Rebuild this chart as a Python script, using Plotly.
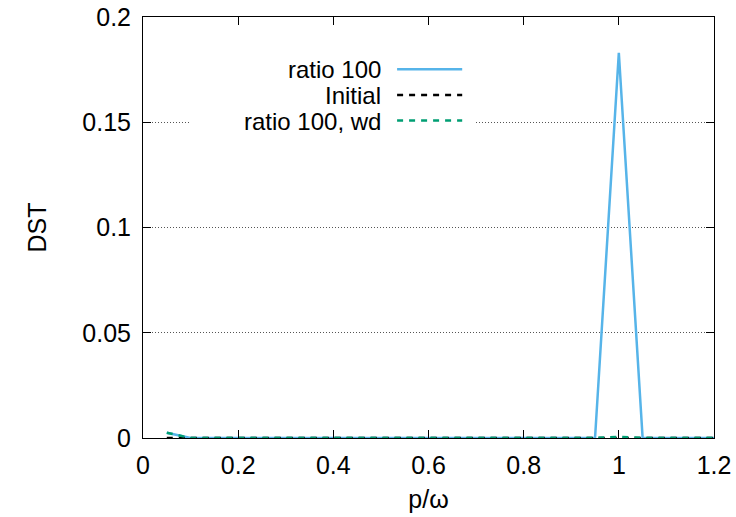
import plotly.graph_objects as go

# Frequency grid p/omega and the three DST curves
p_over_omega = [0.05, 0.10, 0.15, 0.20, 0.25, 0.30, 0.35, 0.40, 0.45, 0.50,
                0.55, 0.60, 0.65, 0.70, 0.75, 0.80, 0.85, 0.90, 0.95, 1.00,
                1.05, 1.10, 1.15, 1.20]
dst_ratio100 = [0.0025, 0, 0, 0, 0, 0, 0, 0, 0, 0,
                0, 0, 0, 0, 0, 0, 0, 0, 0, 0.183,
                0, 0, 0, 0]
dst_initial = [0, 0, 0, 0, 0, 0, 0, 0, 0, 0,
               0, 0, 0, 0, 0, 0, 0, 0, 0, 0,
               0, 0, 0, 0]
dst_ratio100_wd = [0.0025, 0, 0, 0, 0, 0, 0, 0, 0, 0,
                   0, 0, 0, 0, 0, 0, 0, 0, 0, 0.0006,
                   0, 0, 0, 0]

series_names = ["ratio 100", "Initial", "ratio 100, wd"]
series_colors = ["#56b4e9", "#000000", "#009e73"]
series_dash = ["solid", "6px,6px", "6px,6px"]
series_values = [dst_ratio100, dst_initial, dst_ratio100_wd]

x_ticks = [0, 0.2, 0.4, 0.6, 0.8, 1, 1.2]
y_ticks = [0, 0.05, 0.1, 0.15, 0.2]

FONT = "Liberation Sans, Arial, sans-serif"
FS = 25
KEY_FS = 24

fig = go.Figure()
for name, col, dash, vals in zip(series_names, series_colors, series_dash, series_values):
    fig.add_trace(go.Scatter(x=p_over_omega, y=vals, mode="lines", name=name,
                             line=dict(color=col, width=2.5, dash=dash),
                             showlegend=False))

# Key: white panel with right-aligned labels and line samples to their right
fig.add_shape(type="rect", xref="paper", yref="paper",
              x0=0.083, x1=0.583, y0=0.72, y1=0.915,
              fillcolor="white", line=dict(width=0), layer="above")
key_y = [0.876, 0.815, 0.754]
for name, col, dash, ky in zip(series_names, series_colors, series_dash, key_y):
    fig.add_annotation(x=0.419, y=ky, xref="paper", yref="paper", text=name,
                       showarrow=False, xanchor="right", yanchor="middle",
                       height=24, borderpad=0,
                       font=dict(family=FONT, size=KEY_FS, color="black"))
    fig.add_shape(type="line", xref="paper", yref="paper",
                  x0=0.445, x1=0.559, y0=ky, y1=ky,
                  line=dict(color=col, width=2.5, dash=dash), layer="above")

axis_common = dict(showline=True, linecolor="black", linewidth=1, mirror="ticks",
                   ticks="inside", ticklen=8, tickcolor="black", tickwidth=1,
                   tickfont=dict(family=FONT, size=FS, color="black"),
                   zeroline=False, automargin=False)

fig.update_xaxes(range=[0, 1.2], tickvals=x_ticks,
                 ticktext=["0", "0.2", "0.4", "0.6", "0.8", "1", "1.2"],
                 showgrid=False, ticklabelstandoff=5,
                 title=dict(text="p/ω", font=dict(family=FONT, size=FS, color="black"),
                            standoff=12),
                 **axis_common)
fig.update_yaxes(range=[0, 0.2], tickvals=y_ticks,
                 ticktext=["0", "0.05", "0.1", "0.15", "0.2"],
                 showgrid=True, gridcolor="#555555", gridwidth=1, griddash="1px,2px",
                 ticklabelstandoff=6,
                 title=dict(text="DST", font=dict(family=FONT, size=FS, color="black"),
                            standoff=28),
                 **axis_common)

fig.update_layout(width=736, height=517,
                  margin=dict(l=143, r=22, t=17, b=79),
                  plot_bgcolor="white", paper_bgcolor="white",
                  font=dict(family=FONT, size=FS, color="black"))

fig.write_html("out.html")
